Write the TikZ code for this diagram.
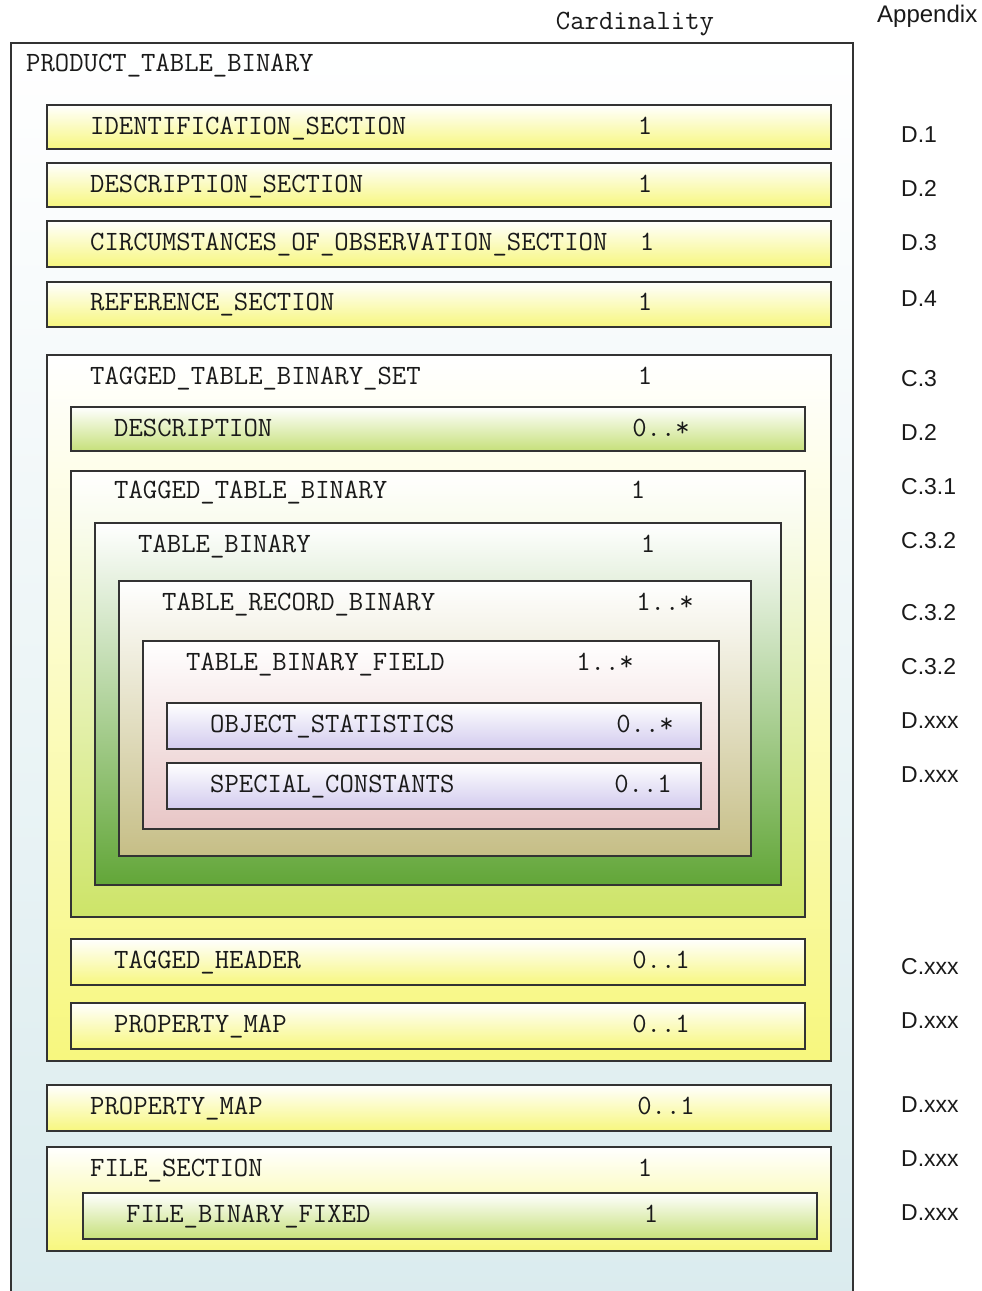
\documentclass[tikz,border=0pt]{standalone}
\usepackage{fontspec}
\newfontfamily\sansf{Liberation Sans}
\newcommand{\monof}{\ttfamily\fontsize{27.9}{32}\selectfont}
\definecolor{boxline}{HTML}{333333}
\definecolor{txt}{HTML}{1A1A1A}
\definecolor{outerB}{HTML}{DAEBEE}
\definecolor{yelB}{HTML}{F7F77E}
\definecolor{grnB}{HTML}{C6E07A}
\definecolor{ttbB}{HTML}{CDE468}
\definecolor{tbB}{HTML}{62A638}
\definecolor{trbB}{HTML}{C6BE86}
\definecolor{tbfB}{HTML}{E8C6C6}
\definecolor{lavB}{HTML}{D2CBEE}
\tikzset{
  bx/.style={draw=boxline, line width=1.8pt, inner sep=0pt, anchor=north west},
  yel/.style={top color=white, bottom color=yelB},
  grn/.style={top color=white, bottom color=grnB},
  lav/.style={top color=white, bottom color=lavB},
  lbl/.style={font=\monof, text=txt, anchor=base west, inner sep=0pt},
  crd/.style={font=\monof, text=txt, anchor=base, inner sep=0pt},
  app/.style={font=\sansf\fontsize{23}{27}\selectfont, text=txt, anchor=base west, inner sep=0pt}
}
\begin{document}
\begin{tikzpicture}[x=1pt,y=1pt]
\useasboundingbox (0,0) rectangle (982,-1291);
\fill[white] (0,0) rectangle (982,-1291);
% outer
\node[bx, top color=white, bottom color=outerB, minimum width=842pt, minimum height=1270pt] (outer) at (10,-42) {};
\node[lbl] (outerl) at (26,-71) {PRODUCT\_TABLE\_BINARY};
% headers
\node[crd] (hcard) at (635,-29) {Cardinality};
\node[app, font=\sansf\fontsize{24}{28}\selectfont] (happ) at (877,-22) {Appendix};
% simple sections
\node[bx, yel, minimum width=784pt, minimum height=44pt] (ident) at (46,-104) {};
\node[lbl] (identl) at (90,-134) {IDENTIFICATION\_SECTION};
\node[crd] (identc) at (645,-134) {1};
\node[bx, yel, minimum width=784pt, minimum height=44pt] (descs) at (46,-162) {};
\node[lbl] (descsl) at (90,-192) {DESCRIPTION\_SECTION};
\node[crd] (descsc) at (645,-192) {1};
\node[bx, yel, minimum width=784pt, minimum height=46pt] (circ) at (46,-220) {};
\node[lbl] (circl) at (90,-250) {CIRCUMSTANCES\_OF\_OBSERVATION\_SECTION};
\node[crd] (circc) at (647,-250) {1};
\node[bx, yel, minimum width=784pt, minimum height=45pt] (ref) at (46,-281) {};
\node[lbl] (refl) at (90,-310) {REFERENCE\_SECTION};
\node[crd] (refc) at (645,-310) {1};
% tagged table binary set
\node[bx, yel, minimum width=784pt, minimum height=706pt] (ttbs) at (46,-354) {};
\node[lbl] (ttbsl) at (90,-384) {TAGGED\_TABLE\_BINARY\_SET};
\node[crd] (ttbsc) at (645,-384) {1};
\node[bx, grn, minimum width=734pt, minimum height=44pt] (desc) at (70,-406) {};
\node[lbl] (descl) at (114,-436) {DESCRIPTION};
\node[crd] (descc) at (661,-436) {0..*};
\node[bx, top color=white, bottom color=ttbB, minimum width=734pt, minimum height=446pt] (ttb) at (70,-470) {};
\node[lbl] (ttbl) at (114,-498) {TAGGED\_TABLE\_BINARY};
\node[crd] (ttbc) at (638,-498) {1};
\node[bx, top color=white, bottom color=tbB, minimum width=686pt, minimum height=362pt] (tb) at (94,-522) {};
\node[lbl] (tbl) at (138,-552) {TABLE\_BINARY};
\node[crd] (tbc) at (648,-552) {1};
\node[bx, top color=white, bottom color=trbB, minimum width=632pt, minimum height=275pt] (trb) at (118,-580) {};
\node[lbl] (trbl) at (162,-610) {TABLE\_RECORD\_BINARY};
\node[crd] (trbc) at (665,-610) {1..*};
\node[bx, top color=white, bottom color=tbfB, minimum width=576pt, minimum height=188pt] (tbf) at (142,-640) {};
\node[lbl] (tbfl) at (186,-670) {TABLE\_BINARY\_FIELD};
\node[crd] (tbfc) at (605,-670) {1..*};
\node[bx, lav, minimum width=534pt, minimum height=46pt] (obj) at (166,-702) {};
\node[lbl] (objl) at (210,-732) {OBJECT\_STATISTICS};
\node[crd] (objc) at (645,-732) {0..*};
\node[bx, lav, minimum width=534pt, minimum height=46pt] (spec) at (166,-762) {};
\node[lbl] (specl) at (210,-792) {SPECIAL\_CONSTANTS};
\node[crd] (specc) at (643,-792) {0..1};
\node[bx, yel, minimum width=734pt, minimum height=46pt] (th) at (70,-938) {};
\node[lbl] (thl) at (114,-968) {TAGGED\_HEADER};
\node[crd] (thc) at (661,-968) {0..1};
\node[bx, yel, minimum width=734pt, minimum height=46pt] (pm1) at (70,-1002) {};
\node[lbl] (pm1l) at (114,-1032) {PROPERTY\_MAP};
\node[crd] (pm1c) at (661,-1032) {0..1};
% property map, file section
\node[bx, yel, minimum width=784pt, minimum height=46pt] (pm2) at (46,-1084) {};
\node[lbl] (pm2l) at (90,-1114) {PROPERTY\_MAP};
\node[crd] (pm2c) at (666,-1114) {0..1};
\node[bx, yel, minimum width=784pt, minimum height=104pt] (fs) at (46,-1146) {};
\node[lbl] (fsl) at (90,-1176) {FILE\_SECTION};
\node[crd] (fsc) at (645,-1176) {1};
\node[bx, grn, minimum width=734pt, minimum height=46pt] (fbf) at (82,-1192) {};
\node[lbl] (fbfl) at (126,-1222) {FILE\_BINARY\_FIXED};
\node[crd] (fbfc) at (651,-1222) {1};
% appendix column
\node[app] (a1) at (901,-142) {D.1};
\node[app] (a2) at (901,-196) {D.2};
\node[app] (a3) at (901,-250) {D.3};
\node[app] (a4) at (901,-306) {D.4};
\node[app] (a5) at (901,-386) {C.3};
\node[app] (a6) at (901,-440) {D.2};
\node[app] (a7) at (901,-494) {C.3.1};
\node[app] (a8) at (901,-548) {C.3.2};
\node[app] (a9) at (901,-620) {C.3.2};
\node[app] (a10) at (901,-674) {C.3.2};
\node[app] (a11) at (901,-728) {D.xxx};
\node[app] (a12) at (901,-782) {D.xxx};
\node[app] (a13) at (901,-974) {C.xxx};
\node[app] (a14) at (901,-1028) {D.xxx};
\node[app] (a15) at (901,-1112) {D.xxx};
\node[app] (a16) at (901,-1166) {D.xxx};
\node[app] (a17) at (901,-1220) {D.xxx};
\end{tikzpicture}
\end{document}
